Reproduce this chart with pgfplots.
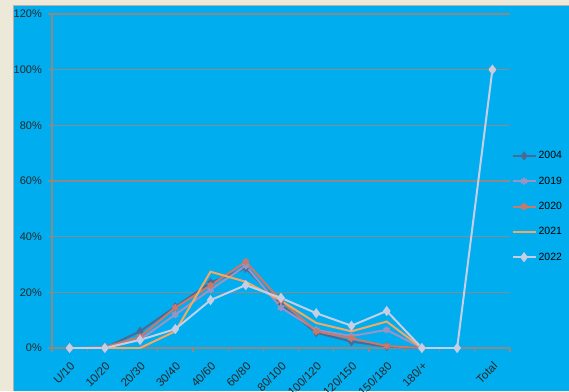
\documentclass[border=0pt]{standalone}
\usepackage{pgfplots}
\pgfplotsset{compat=1.18}
\usepackage{fontspec}
\setmainfont{Liberation Sans}
\definecolor{bgblue}{HTML}{00AEEF}
\definecolor{beige}{HTML}{ECE9D8}
\definecolor{gridgray}{HTML}{8A8A8A}
\definecolor{c2004}{HTML}{4A6A96}
\definecolor{c2019}{HTML}{9A94C6}
\definecolor{c2020}{HTML}{C8796A}
\definecolor{c2021}{HTML}{F6A860}
\definecolor{c2022}{HTML}{C6CEE6}
\begin{document}
\begin{tikzpicture}[x=1pt,y=1pt]
\useasboundingbox (0,0) rectangle (569,391);
\fill[beige] (0,0) rectangle (569,391);
\fill[bgblue] (14,0) rectangle (569,385);
\draw[gray!60, line width=1pt] (13.5,0) -- (13.5,385.5) -- (569,385.5);
\begin{axis}[
	at={(52pt,43pt)}, anchor=south west,
	scale only axis,
	width=458pt, height=334pt,
	xmin=-0.5, xmax=12.5,
	ymin=0, ymax=120,
	axis x line*=bottom, axis y line*=left,
	axis line style={gridgray, line width=1.2pt, -},
	xtick={0,...,12},
	xticklabels={U/10,10/20,20/30,30/40,40/60,60/80,80/100,100/120,120/150,150/180,180/+,,Total},
	minor xtick={-0.5,0.5,...,12.5},
	major x tick style={draw=none},
	minor x tick style={gridgray, line width=1.2pt},
	minor tick length=4pt,
	ytick={0,20,...,120},
	yticklabels={0\%,20\%,40\%,60\%,80\%,100\%,120\%},
	major tick length=4pt,
	tick align=outside,
	y tick style={gridgray, line width=1.2pt},
	ymajorgrids=true,
	grid style={gridgray, line width=1.3pt},
	ticklabel style={font=\fontsize{11}{13}\selectfont, text=black!85},
	xticklabel shift=9pt,
	xticklabel style={anchor=north east, inner sep=0pt, rotate=45, font=\fontsize{11.5}{13}\selectfont},
	yticklabel style={inner sep=0pt, xshift=-6pt},
	unbounded coords=jump,
	every axis plot/.append style={line width=2pt},
	legend style={at={(1.003,0.595)}, anchor=north west, draw=none, fill=none,
		font=\fontsize{10.5}{12}\selectfont, row sep=12.5pt, inner sep=0pt},
	legend cell align=left,
	legend image code/.code={\draw[mark repeat=2,mark phase=2,#1] plot coordinates {(0pt,0pt) (11.5pt,0pt) (23pt,0pt)};},
	]
	\addplot[color=c2004, mark=diamond*, mark size=3pt]
	coordinates {
		(0,0)(1,0)(2,6)(3,14.8)(4,23.5)(5,28.7)(6,15.5)(7,5.5)(8,2.3)(9,0.5)(10,0)(11,nan)(12,100)
	};
	\addplot[color=c2019, mark=asterisk, mark size=3.5pt]
	coordinates {
		(0,0)(1,0)(2,3)(3,12)(4,21)(5,29.5)(6,14.5)(7,6.5)(8,4.3)(9,6.5)(10,0)(11,nan)(12,100)
	};
	\addplot[color=c2020, mark=asterisk, mark size=3.5pt]
	coordinates {
		(0,0)(1,0.3)(2,4)(3,14.5)(4,22.5)(5,31)(6,17)(7,6)(8,3.5)(9,0.7)(10,0)(11,nan)(12,100)
	};
	\addplot[color=c2021, no marks]
	coordinates {
		(0,0)(1,0)(2,0)(3,6)(4,27.4)(5,23.8)(6,17)(7,9)(8,6)(9,9.5)(10,0)(11,nan)(12,100)
	};
	\addplot[color=c2022, mark=diamond*, mark size=3.5pt]
	coordinates {
		(0,0)(1,0)(2,2.9)(3,6.8)(4,17.2)(5,22.6)(6,18)(7,12.5)(8,8)(9,13.3)(10,0)(11,0)(12,100)
	};
	\legend{2004,2019,2020,2021,2022}
\end{axis}
\end{tikzpicture}
\end{document}
